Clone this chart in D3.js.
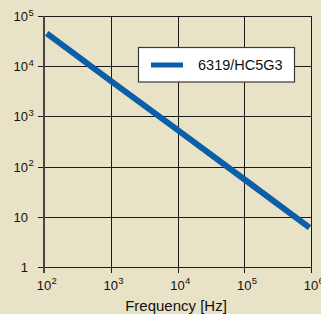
<!DOCTYPE html>
<html><head><meta charset="utf-8">
<script src="https://cdn.jsdelivr.net/npm/d3@7"></script>
<style>
html,body{margin:0;padding:0;background:#e8e2c6;}
svg{display:block;font-family:"Liberation Sans",Arial,Helvetica,sans-serif;}
</style></head>
<body>
<svg id="c" width="321" height="314"></svg>
<script>
const frequency = [110, 1000, 10000, 100000, 950000];
const seriesValues = [45000, 5100, 540, 56, 6.1];
const seriesName = "6319/HC5G3";
const xTicks = [1e2, 1e3, 1e4, 1e5, 1e6];
const xTickExp = ["2", "3", "4", "5", "6"];
const yTicks = [1, 10, 1e2, 1e3, 1e4, 1e5];
const yTickBase = ["1", "10", "10", "10", "10", "10"];
const yTickExp = ["", "", "2", "3", "4", "5"];
const xTitle = "Frequency [Hz]";

const svg = d3.select("#c");
svg.append("rect").attr("width", 321).attr("height", 314).attr("fill", "#e8e2c6");

const x = d3.scaleLog().domain([1e2, 1e6]).range([44, 311]);
const y = d3.scaleLog().domain([1, 1e5]).range([267, 16]);

const grid = "#1a1a1a";
// horizontal gridlines (with left ticks)
svg.append("g").selectAll("line").data(yTicks).join("line")
  .attr("x1", 38).attr("x2", x(1e6))
  .attr("y1", d => Math.round(y(d)) + 0.5).attr("y2", d => Math.round(y(d)) + 0.5)
  .attr("stroke", grid).attr("stroke-width", 1);
// vertical gridlines (with bottom ticks)
svg.append("g").selectAll("line").data(xTicks.slice(1)).join("line")
  .attr("x1", d => Math.round(x(d)) + 0.5).attr("x2", d => Math.round(x(d)) + 0.5)
  .attr("y1", y(1e5)).attr("y2", 273)
  .attr("stroke", grid).attr("stroke-width", 1);
// left axis
svg.append("line").attr("x1", x(1e2)).attr("x2", x(1e2))
  .attr("y1", y(1e5)).attr("y2", 273)
  .attr("stroke", "#4a4540").attr("stroke-width", 2);

// y tick labels
const yl = svg.append("g").attr("fill", "#111");
yTicks.forEach((d, i) => {
  yl.append("text").attr("x", 28).attr("y", y(d) + 5)
    .attr("text-anchor", "end").attr("font-size", 13).text(yTickBase[i]);
  if (yTickExp[i]) {
    yl.append("text").attr("x", 28.5).attr("y", y(d) - 0.5)
      .attr("font-size", 9.5).text(yTickExp[i]);
  }
});
// x tick labels
const xl = svg.append("g").attr("fill", "#111");
xTicks.forEach((d, i) => {
  xl.append("text").attr("x", x(d)).attr("y", 289.5)
    .attr("text-anchor", "middle").attr("font-size", 13).text("10");
  xl.append("text").attr("x", x(d) + 7.5).attr("y", 284)
    .attr("font-size", 9.5).text(xTickExp[i]);
});
// x title
svg.append("text").attr("x", 176).attr("y", 310.5).attr("text-anchor", "middle")
  .attr("font-size", 15).attr("fill", "#111").text(xTitle);

// data line
const pts = frequency.map((f, i) => [f, seriesValues[i]]);
svg.append("path").datum(pts)
  .attr("d", d3.line().x(d => x(d[0])).y(d => y(d[1])))
  .attr("fill", "none").attr("stroke", "#0b5fa8").attr("stroke-width", 6)
  .attr("stroke-linecap", "butt");

// legend
const lg = svg.append("g");
lg.append("rect").attr("x", 138.5).attr("y", 47.5).attr("width", 156).attr("height", 34.5)
  .attr("fill", "#fff").attr("stroke", "#3a3a3a").attr("stroke-width", 1.2);
lg.append("line").attr("x1", 151).attr("x2", 183).attr("y1", 65).attr("y2", 65)
  .attr("stroke", "#0b5fa8").attr("stroke-width", 5);
lg.append("text").attr("x", 198).attr("y", 70).attr("font-size", 14.5)
  .attr("fill", "#111").text(seriesName);
</script>
</body></html>
